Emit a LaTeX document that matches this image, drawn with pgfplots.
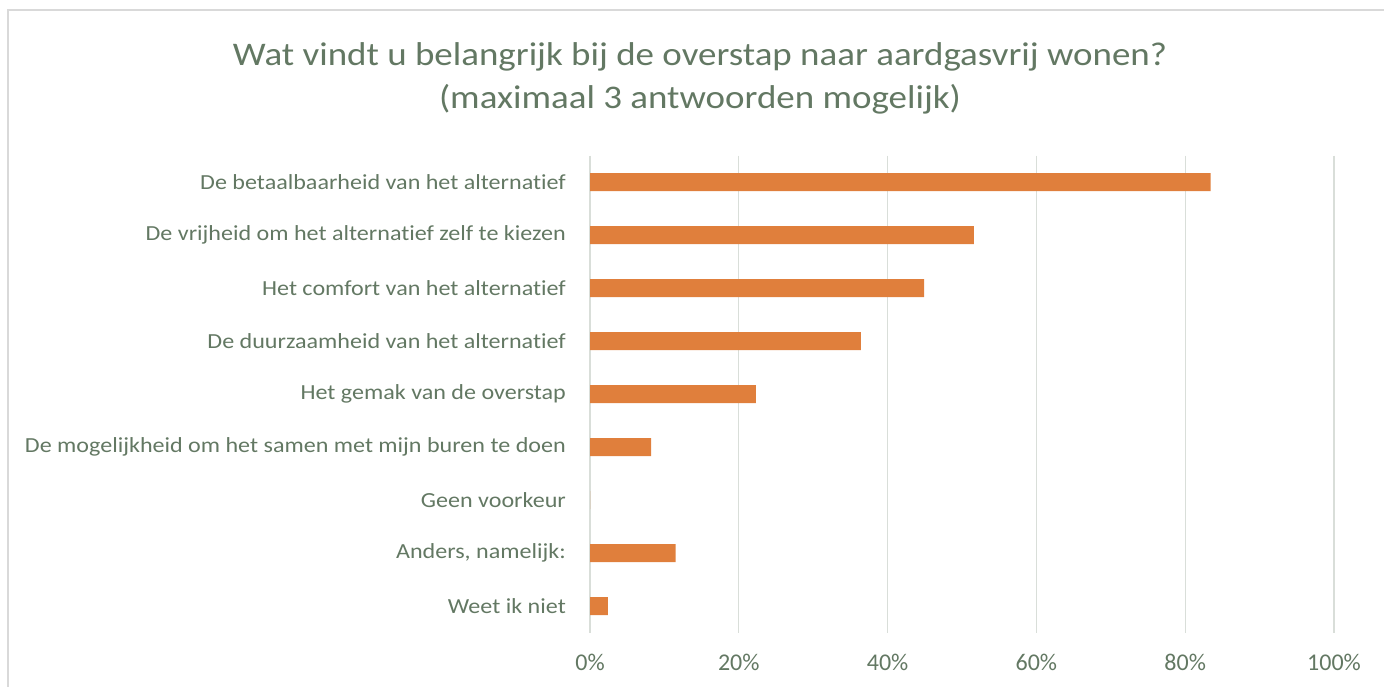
\documentclass[border=0pt]{standalone}
\usepackage{pgfplots}
\pgfplotsset{compat=1.18}
\usepackage{fontspec}
\setmainfont{Carlito}
\newfontfamily\wide{Carlito}[FakeStretch=1.12, Ligatures=NoCommon]
\definecolor{textc}{RGB}{99,120,99}
\definecolor{barc}{RGB}{224,127,60}
\definecolor{gridc}{RGB}{217,222,217}
\definecolor{framec}{RGB}{217,217,217}
\begin{document}
\begin{tikzpicture}[x=1pt,y=1pt]
\useasboundingbox (0,0) rectangle (1384,-686);
\draw[framec, line width=1.2pt] (8,-690) -- (8,-10) -- (1390,-10);
\node[text=textc, anchor=base, inner sep=0pt, font=\wide\fontsize{33}{40}\selectfont] at (700,-65)
  {Wat vindt u belangrijk bij de overstap naar aardgasvrij wonen?};
\node[text=textc, anchor=base, inner sep=0pt, font=\wide\fontsize{33}{40}\selectfont] at (700,-108)
  {(maximaal 3 antwoorden mogelijk)};
\begin{axis}[
  scale only axis, width=744pt, height=477pt,
  at={(590pt,-632.5pt)}, anchor=south west,
  xbar, bar width=18pt,
  xmin=0, xmax=100, ymin=-0.5, ymax=8.5, y dir=reverse,
  ytick={0,1,2,3,4,5,6,7,8},
  yticklabels={De betaalbaarheid van het alternatief,
    De vrijheid om het alternatief zelf te kiezen,
    Het comfort van het alternatief,
    De duurzaamheid van het alternatief,
    Het gemak van de overstap,
    De mogelijkheid om het samen met mijn buren te doen,
    Geen voorkeur,
    {Anders, namelijk:},
    Weet ik niet},
  xtick={0,20,40,60,80,100},
  xticklabels={0\%,20\%,40\%,60\%,80\%,100\%},
  axis line style={draw=none},
  major tick length=0pt,
  xmajorgrids, ymajorgrids=false,
  grid style={color=gridc, line width=1.3pt},
  tick label style={text=textc},
  yticklabel style={font=\wide\fontsize{21.5}{26}\selectfont, anchor=east, inner sep=0pt, xshift=-24pt},
  xticklabel style={font=\fontsize{24}{28}\selectfont, anchor=north, inner sep=0pt, yshift=-21pt},
]
\addplot[fill=barc, draw=none] coordinates {
  (83.4,0) (51.6,1) (44.9,2) (36.4,3) (22.3,4) (8.2,5) (0,6) (11.5,7) (2.4,8)};
\end{axis}
\end{tikzpicture}
\end{document}
